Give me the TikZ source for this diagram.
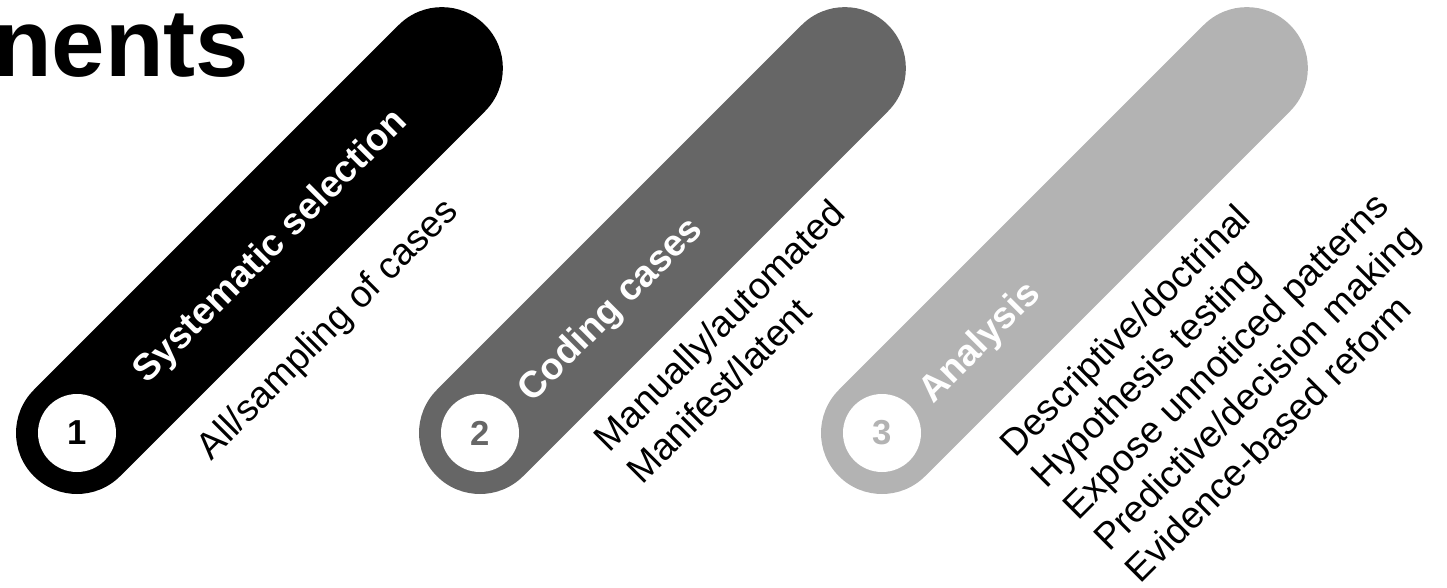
\documentclass[tikz,border=0pt]{standalone}
\usepackage{fontspec}
\setmainfont{Liberation Sans}
\definecolor{stepone}{HTML}{000000}
\definecolor{steptwo}{HTML}{666666}
\definecolor{stepthree}{HTML}{B3B3B3}
\tikzset{
  pill/.style={line width=91.5pt, line cap=round},
  disc/.style={circle, fill=white, minimum size=58.5pt, inner sep=0pt,
               font=\fontsize{26}{26}\selectfont\bfseries},
  pilltext/.style={anchor=base west, rotate=45, text=white,
                   font=\fontsize{28}{28}\selectfont\bfseries, inner sep=0pt},
  subtext/.style={anchor=base west, rotate=45, text=black,
                  font=\fontsize{28}{28}\selectfont, inner sep=0pt},
}
\begin{document}
\begin{tikzpicture}[x=0.75pt, y=0.75pt]
\useasboundingbox (0,0) rectangle (1447,587);

% heading, running off the left edge
\node[anchor=base west, inner sep=0pt, font=\fontsize{72}{72}\selectfont\bfseries]
  (title) at (-7,510) {nents};

% step 1
\begin{scope}[shift={(77,154)}, rotate=45]
  \draw[pill, stepone] (0,0) coordinate (a1) -- (516,0) coordinate (b1);
  \node[disc, text=stepone] (n1) at (a1) {1};
  \node[pilltext] (h1) at (84,-16) {Systematic selection};
  \node[subtext] (s1) at (75,-115) {All/sampling of cases};
\end{scope}

% step 2
\begin{scope}[shift={(480,154)}, rotate=45]
  \draw[pill, steptwo] (0,0) coordinate (a2) -- (516,0) coordinate (b2);
  \node[disc, text=steptwo] (n2) at (a2) {2};
  \node[pilltext] (h2) at (58,-16) {Coding cases};
  \node[subtext] (s2a) at (77,-106) {Manually/automated};
  \node[subtext] (s2b) at (77,-152) {Manifest/latent};
\end{scope}

% step 3
\begin{scope}[shift={(882,154)}, rotate=45]
  \draw[pill, stepthree] (0,0) coordinate (a3) -- (516,0) coordinate (b3);
  \node[disc, text=stepthree] (n3) at (a3) {3};
  \node[pilltext] (h3) at (56,-16) {Analysis};
  \node[subtext] (s3a) at (76,-112) {Descriptive/doctrinal};
  \node[subtext] (s3b) at (76,-156.5) {Hypothesis testing};
  \node[subtext] (s3c) at (76,-201) {Expose unnoticed patterns};
  \node[subtext] (s3d) at (76,-245.5) {Predictive/decision making};
  \node[subtext] (s3e) at (76,-290) {Evidence-based reform};
\end{scope}
\end{tikzpicture}
\end{document}
